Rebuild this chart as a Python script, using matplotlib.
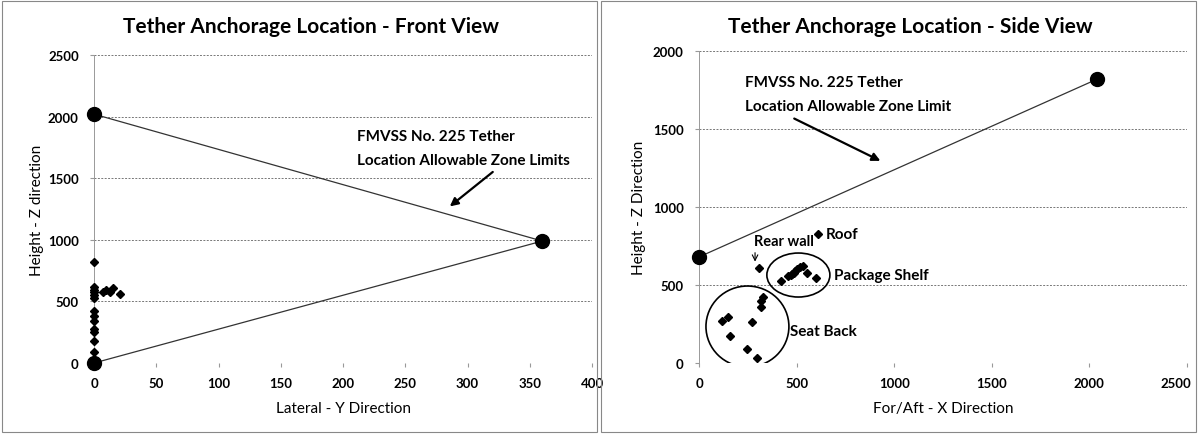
import matplotlib
matplotlib.use('Agg')
import matplotlib.pyplot as plt
import matplotlib.transforms as mtransforms
from matplotlib.patches import Ellipse, Rectangle

plt.rcParams['font.family'] = ['Lato', 'DejaVu Sans']
plt.rcParams['font.weight'] = 'bold'

# front view (lateral Y vs height Z)
front_y = [0, 0, 0, 0, 0, 0, 0, 0, 0, 0, 0, 0, 0, 0, 7, 10, 15, 13, 21]
front_z = [820, 620, 595, 575, 550, 530, 420, 385, 345, 280, 250, 180, 90, 20,
           580, 590, 605, 575, 560]
front_zone_y = [0, 360, 0]
front_zone_z = [2020, 990, 0]

# side view (for/aft X vs height Z)
rear_x, rear_z = [309], [609]
shelf_x = [420, 457, 470, 475, 485, 492, 500, 517, 531, 551, 599]
shelf_z = [528, 560, 565, 570, 580, 592, 603, 613, 620, 577, 543]
seat_x = [329, 317, 317, 116, 150, 270, 159, 247, 295]
seat_z = [425, 400, 357, 271, 293, 261, 171, 90, 30]
roof_x, roof_z = [612], [830]
side_zone_x = [0, 2040]
side_zone_z = [680, 1820]

fig = plt.figure(figsize=(11.98, 4.35), dpi=100)

# chart area borders
for x0 in (0.002, 0.5017):
    fig.patches.append(Rectangle((x0, 0.005), 0.4965, 0.99, transform=fig.transFigure,
                                 fill=False, edgecolor='#888888', lw=0.8))


def style(ax, yticks, xticks):
    ax.set_yticks(yticks)
    ax.set_xticks(xticks)
    ax.grid(axis='y', color='#777777', linestyle=(0, (2, 1.5)), lw=0.7)
    ax.set_axisbelow(True)
    for s in ['top', 'right', 'bottom']:
        ax.spines[s].set_visible(False)
    ax.spines['left'].set_color('#999999')
    ax.spines['left'].set_linewidth(0.7)
    ax.tick_params(axis='x', length=3, color='#999999', labelsize=9.5, pad=7)
    ax.tick_params(axis='y', length=3, color='#999999', labelsize=9.5, pad=8)


# ---- front view
ax1 = fig.add_axes([0.0785, 0.1632, 0.4157, 0.708])
ax1.set_xlim(0, 400)
ax1.set_ylim(0, 2500)
style(ax1, range(0, 2501, 500), range(0, 401, 50))
ax1.plot(front_zone_y, front_zone_z, color='#333333', lw=0.9, marker='o',
         markersize=10, markerfacecolor='black', markeredgecolor='black', clip_on=False, zorder=3)
ax1.plot(front_y, front_z, linestyle='none', marker='D', markersize=4.5,
         color='black', clip_on=False, zorder=4)
ax1.text(211, 1841, 'FMVSS No. 225 Tether', fontsize=11, va='center')
ax1.text(211, 1646, 'Location Allowable Zone Limits', fontsize=11, va='center')
ax1.annotate('', xy=(284, 1257), xytext=(322, 1565),
             arrowprops=dict(arrowstyle='-|>', color='black', lw=1.6, mutation_scale=12))
ax1.set_xlabel('Lateral - Y Direction', fontsize=11, labelpad=9)
ax1.set_ylabel('Height - Z direction', fontsize=11, labelpad=3)
fig.text(0.26, 0.937, 'Tether Anchorage Location - Front View', fontsize=15,
         ha='center', va='center')

# ---- side view
ax2 = fig.add_axes([0.5835, 0.1632, 0.4073, 0.7172])
ax2.set_xlim(0, 2500)
ax2.set_ylim(0, 2000)
style(ax2, range(0, 2001, 500), range(0, 2501, 500))
ax2.plot(side_zone_x, side_zone_z, color='#333333', lw=0.9, marker='o',
         markersize=10, markerfacecolor='black', markeredgecolor='black', clip_on=False, zorder=3)
for xs, zs in [(rear_x, rear_z), (shelf_x, shelf_z), (seat_x, seat_z), (roof_x, roof_z)]:
    ax2.plot(xs, zs, linestyle='none', marker='D', markersize=4.5, color='black', zorder=4)
ax2.add_patch(Ellipse((509, 564), 323, 282, fill=False, edgecolor='black', lw=1.2))
ax2.add_patch(Ellipse((248, 234), 425, 519, fill=False, edgecolor='black', lw=1.2))
ax2.text(691, 564, 'Package Shelf', fontsize=11, va='center')
ax2.text(466, 205, 'Seat Back', fontsize=11, va='center')
ax2.text(650, 825, 'Roof', fontsize=11, va='center')
ax2.text(280, 780, 'Rear wall', fontsize=10.5, va='center')
ax2.annotate('', xy=(287, 632), xytext=(287, 725),
             arrowprops=dict(arrowstyle='->', color='black', lw=0.8, mutation_scale=10))
ax2.text(235, 1801, 'FMVSS No. 225 Tether', fontsize=11, va='center')
ax2.text(235, 1647, 'Location Allowable Zone Limit', fontsize=11, va='center')
ax2.annotate('', xy=(942, 1288), xytext=(475, 1575),
             arrowprops=dict(arrowstyle='-|>', color='black', lw=1.6, mutation_scale=12))
ax2.set_xlabel('For/Aft - X Direction', fontsize=11, labelpad=9)
ax2.set_ylabel('Height - Z Direction', fontsize=11, labelpad=5)
fig.text(0.76, 0.937, 'Tether Anchorage Location - Side View', fontsize=15,
         ha='center', va='center')

# keep the last x tick label inside the chart border
last = ax2.get_xticklabels()[-1]
last.set_transform(last.get_transform() + mtransforms.ScaledTranslation(-8 / 72, 0, fig.dpi_scale_trans))

fig.savefig('out.png', dpi=100)
